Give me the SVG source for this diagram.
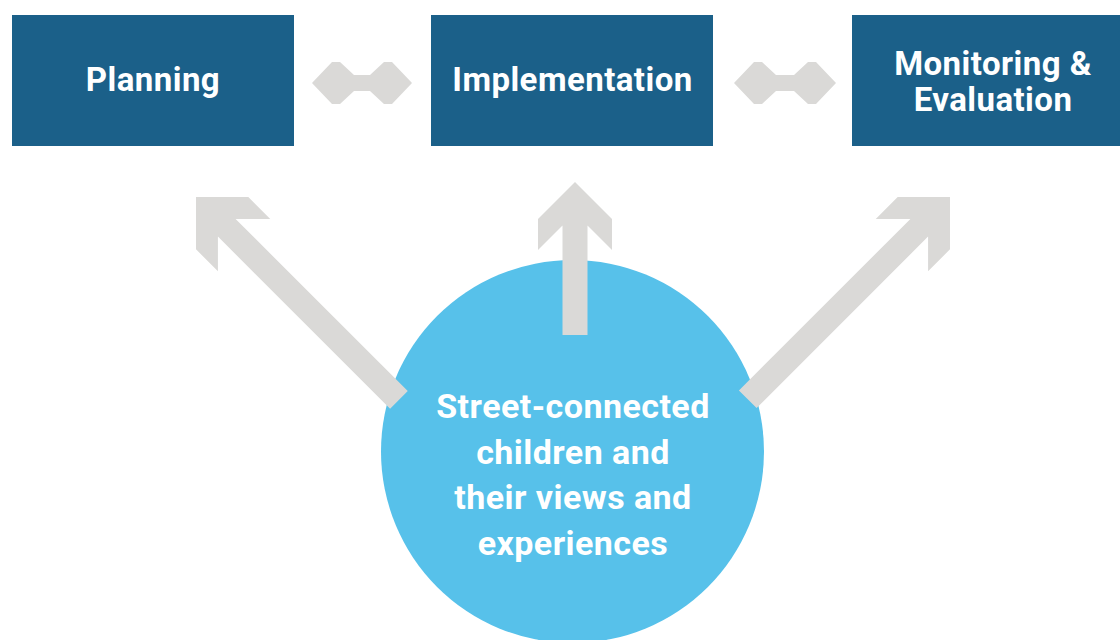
<svg xmlns="http://www.w3.org/2000/svg" width="1120" height="640" viewBox="0 0 1120 640">
  <style>
    .box { fill: #1B6089; }
    .hub { fill: #57C1EA; }
    .arrow { fill: #DAD9D7; }
    .label { font-family: Roboto, "Liberation Sans", sans-serif; font-weight: 700; font-size: 33px; letter-spacing: 0.45px; fill: #FFFFFF; text-anchor: middle; }
    .hublabel { font-size: 34px; }
  </style>
  <rect width="1120" height="640" fill="#FFFFFF"/>

  <g id="hub">
    <circle class="hub" cx="572.5" cy="451.5" r="191.5"/>
  </g>

  <g id="connectors">
    <path class="arrow" d="M312,83 L332,62 L340,62 L354,75 L370,75 L384,62 L392,62 L412,83 L392,104 L384,104 L370,91 L354,91 L340,104 L332,104 Z"/>
    <path class="arrow" d="M734,83 L754,62 L762,62 L776,75 L794,75 L808,62 L816,62 L836,83 L816,104 L808,104 L794,91 L776,91 L762,104 L754,104 Z"/>
    <path class="arrow" transform="translate(575,182)" d="M0,0 L37,37 L37,68 L12.5,43.5 L12.5,153 L-12.5,153 L-12.5,43.5 L-37,68 L-37,37 Z"/>
    <path class="arrow" transform="translate(196,197) rotate(-45)" d="M0,0 L37,37 L37,68 L12.5,43.5 L12.5,287 L-12.5,287 L-12.5,43.5 L-37,68 L-37,37 Z"/>
    <path class="arrow" transform="translate(950,197) rotate(45)" d="M0,0 L37,37 L37,68 L12.5,43.5 L12.5,286 L-12.5,286 L-12.5,43.5 L-37,68 L-37,37 Z"/>
  </g>

  <g id="planning">
    <rect class="box" x="12" y="15" width="282" height="131"/>
    <text class="label" x="153" y="91">Planning</text>
  </g>
  <g id="implementation">
    <rect class="box" x="431" y="15" width="282" height="131"/>
    <text class="label" x="572.5" y="91">Implementation</text>
  </g>
  <g id="monitoring">
    <rect class="box" x="852" y="15" width="268" height="131"/>
    <text class="label" x="993" y="75">Monitoring &amp;</text>
    <text class="label" x="993" y="111">Evaluation</text>
  </g>
  <g id="hub-label">
    <text class="label hublabel" x="573" y="418">Street-connected</text>
    <text class="label hublabel" x="573" y="464">children and</text>
    <text class="label hublabel" x="573" y="509">their views and</text>
    <text class="label hublabel" x="573" y="555">experiences</text>
  </g>
</svg>
